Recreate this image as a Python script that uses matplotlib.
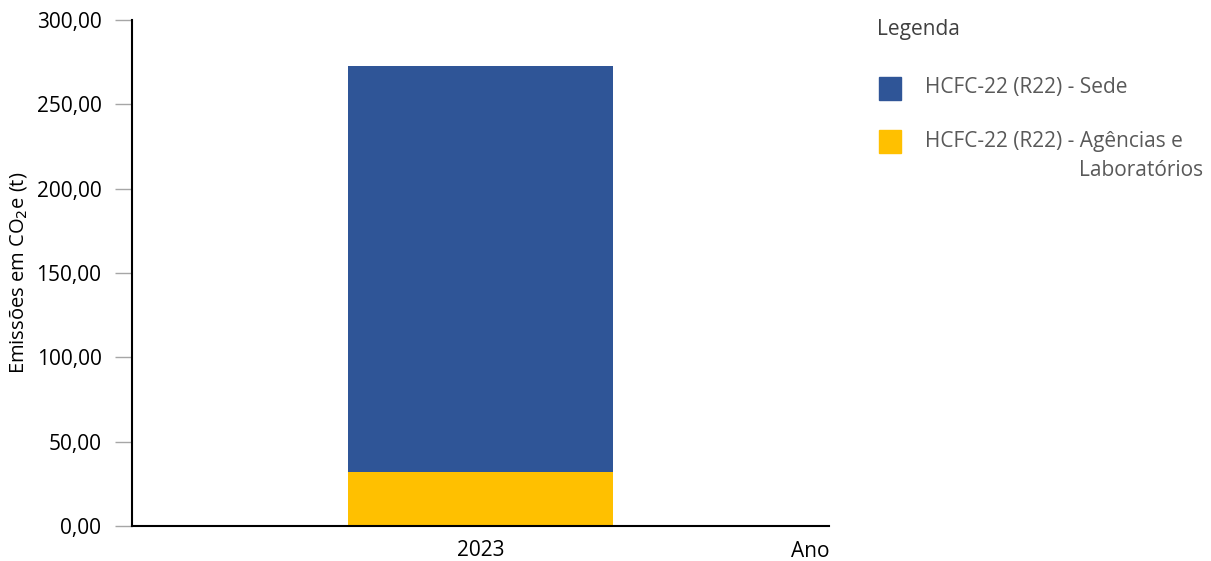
import matplotlib
matplotlib.use('Agg')
import matplotlib.pyplot as plt
from matplotlib.ticker import FuncFormatter
from matplotlib.patches import Rectangle

# emissoes por fonte (t CO2e)
anos = ['2023']
sede = [240.7]
agencias = [32.0]
series = ['HCFC-22 (R22) - Sede', 'HCFC-22 (R22) - Agências e\nLaboratórios']
cores = ['#2F5597', '#FFC000']

plt.rcParams['font.family'] = ['Open Sans', 'DejaVu Sans']

W, H = 1211, 561
fig = plt.figure(figsize=(W / 100, H / 100), dpi=100)
ax = fig.add_axes([0.109, 0.0624, 0.5756, 0.9019])

x = list(range(len(anos)))
ax.bar(x, agencias, width=0.38, color=cores[1], zorder=2)
ax.bar(x, sede, width=0.38, bottom=agencias, color=cores[0], zorder=2)

ax.set_xlim(-0.5, 0.5)
ax.set_ylim(0, 300)
ax.set_yticks(range(0, 301, 50))
ax.yaxis.set_major_formatter(FuncFormatter(lambda v, p: f'{v:.2f}'.replace('.', ',')))
ax.set_xticks(x)
ax.set_xticklabels(anos)

for s in ['top', 'right']:
    ax.spines[s].set_visible(False)
ax.spines['left'].set_linewidth(1.5)
ax.spines['bottom'].set_linewidth(1.5)
ax.tick_params(axis='y', length=12, width=1, color='#A6A6A6', labelsize=15, pad=10)
ax.tick_params(axis='x', length=0, labelsize=15, pad=10)

ax.set_ylabel('Emissões em CO$_2$e (t)', fontsize=14.5, labelpad=5)
ax.text(1.0, -0.03, 'Ano', transform=ax.transAxes, ha='right', va='top', fontsize=15)

# legenda desenhada a mao (coordenadas em pixels da figura)
def px(xp, yp):
    return xp / W, 1 - yp / H

fig.text(*px(877, 30), 'Legenda', ha='left', va='center', fontsize=15, color='#404040')
y0 = 88
for lab, cor in zip(series, cores):
    fig.patches.append(Rectangle(px(879, y0 + 11.5), 22 / W, 23 / H,
                                 transform=fig.transFigure, color=cor))
    linhas = lab.split('\n')
    fig.text(*px(925, y0), linhas[0], ha='left', va='center', fontsize=15, color='#595959')
    for k, ln in enumerate(linhas[1:], start=1):
        fig.text(*px(1203, y0 + 29 * k), ln, ha='right', va='center', fontsize=15,
                 color='#595959')
    y0 += 53

fig.savefig('out.png', dpi=100)
